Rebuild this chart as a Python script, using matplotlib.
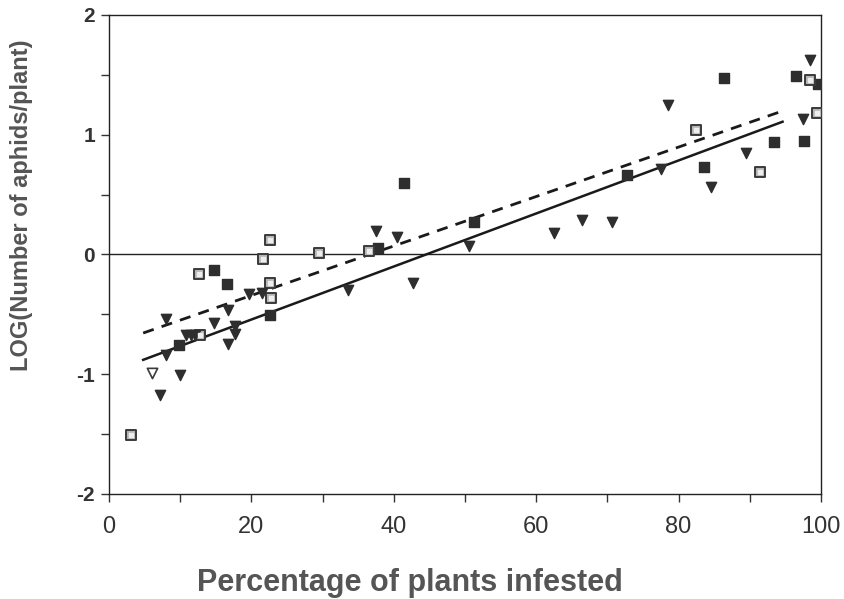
import numpy as np
import matplotlib.pyplot as plt

plt.rcParams['font.family'] = ['Liberation Sans', 'DejaVu Sans']

# filled squares
sq_x = [14.7, 16.6, 22.6, 9.9, 41.5, 51.3, 37.8, 72.7, 96.5, 99.6, 86.4, 97.6, 93.4, 83.6]
sq_y = [-0.13, -0.25, -0.505, -0.76, 0.60, 0.27, 0.05, 0.66, 1.49, 1.42, 1.47, 0.95, 0.94, 0.73]

# open (grey) squares
osq_x = [22.6, 21.6, 12.7, 22.6, 22.7, 12.8, 3.1, 29.5, 36.5, 98.5, 99.5, 82.5, 91.5]
osq_y = [0.12, -0.04, -0.16, -0.24, -0.36, -0.67, -1.51, 0.01, 0.03, 1.46, 1.18, 1.04, 0.69]

# filled triangles
tri_x = [19.7, 21.5, 16.7, 8.0, 14.8, 17.7, 17.7, 10.8, 11.5, 12.1, 16.7, 8.0, 10.0, 7.1,
         37.5, 40.4, 62.5, 66.5, 70.6, 50.5, 33.6, 42.7, 98.5, 97.5, 78.5, 89.5, 77.5, 84.6]
tri_y = [-0.33, -0.32, -0.46, -0.54, -0.57, -0.60, -0.66, -0.67, -0.67, -0.67, -0.75, -0.84, -1.01, -1.17,
         0.20, 0.15, 0.18, 0.29, 0.27, 0.07, -0.30, -0.24, 1.62, 1.13, 1.25, 0.85, 0.71, 0.56]

# open triangle
otri_x = [6.0]
otri_y = [-0.99]

# regression lines (slope, intercept) over x range
fit_range = [4.8, 94.6]
solid_fit = [0.02214, -0.986]
dashed_fit = [0.02065, -0.755]

fig = plt.figure(figsize=(8.45, 5.99), dpi=100)
ax = fig.add_axes([0.129, 0.1753, 0.8426, 0.7997])

xs = np.array(fit_range)
ax.axhline(0, color='#222222', lw=1.0, zorder=1)
ax.plot(xs, solid_fit[0] * xs + solid_fit[1], color='#1a1a1a', lw=1.8, zorder=2)
ax.plot(xs, dashed_fit[0] * xs + dashed_fit[1], color='#1a1a1a', lw=2.0,
        dashes=(4, 3), zorder=2)

ax.scatter(sq_x, sq_y, marker='s', s=55, color='#2e2e2e', zorder=3)
ax.scatter(osq_x, osq_y, marker='s', s=55, facecolor='#b5b5b5', edgecolor='#3a3a3a',
           linewidth=1.4, zorder=3)
ax.scatter(osq_x, osq_y, marker='s', s=6, color='#eeeeee', zorder=4)
ax.scatter(tri_x, tri_y, marker='v', s=55, color='#2e2e2e', zorder=3)
ax.scatter(otri_x, otri_y, marker='v', s=55, facecolor='white', edgecolor='#3a3a3a',
           linewidth=1.2, zorder=3)

ax.set_xlim(0, 100)
ax.set_ylim(-2, 2)
ax.set_xticks([0, 20, 40, 60, 80, 100])
ax.set_xticks([10, 30, 50, 70, 90], minor=True)
ax.set_yticks([-2, -1, 0, 1, 2])
ax.set_yticks([-1.5, -0.5, 0.5, 1.5], minor=True)
ax.set_yticklabels(['-2', '-1', '0', '1', '2'], fontweight='bold')
ax.tick_params(which='both', direction='out', length=6, width=1, colors='#333333',
               labelsize=15, labelcolor='#333333')
ax.tick_params(axis='y', pad=4)
ax.tick_params(axis='x', pad=10, labelsize=17)
for s in ax.spines.values():
    s.set_color('#222222')
    s.set_linewidth(1.0)

fig.text(0.485, 0.027, 'Percentage of plants infested', ha='center', va='center',
         fontsize=22, fontweight='bold', color='#555555')
fig.text(0.026, 0.658, 'LOG(Number of aphids/plant)', ha='center', va='center',
         rotation=90, fontsize=17, fontweight='bold', color='#555555')

fig.savefig('out.png', dpi=100)
